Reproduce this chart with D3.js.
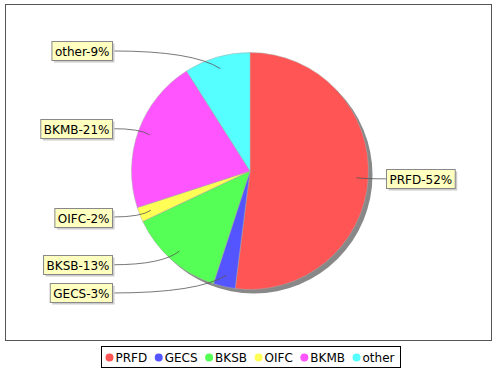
<!DOCTYPE html>
<html>
<head>
<meta charset="utf-8">
<script src="https://cdn.jsdelivr.net/npm/d3@7"></script>
<style>
  body { margin: 0; background: #fff; }
  text { font-family: "DejaVu Sans", sans-serif; font-size: 12px; fill: #000; }
</style>
</head>
<body>
<div id="chart"></div>
<script>
const categories = ['PRFD', 'GECS', 'BKSB', 'OIFC', 'BKMB', 'other']
const values = [52, 3, 13, 2, 21, 9]
const colors = ['#ff5555', '#5555ff', '#55ff55', '#ffff55', '#ff55ff', '#55ffff']

const W = 500, H = 370
const cx = 250, cy = 171, r = 118.5

const svg = d3.select('#chart').append('svg')
  .attr('width', W)
  .attr('height', H)

// plot border
svg.append('rect')
  .attr('x', 5.5).attr('y', 4.5)
  .attr('width', 486).attr('height', 336)
  .attr('fill', '#fff')
  .attr('stroke', '#555')

const data = categories.map((c, i) => ({ name: c, value: values[i], color: colors[i] }))
const total = d3.sum(values)

const pie = d3.pie().value(d => d.value).sort(null)
const arcs = pie(data)
const arc = d3.arc().innerRadius(0).outerRadius(r)

// shadow
svg.append('circle')
  .attr('cx', cx + 4).attr('cy', cy + 4)
  .attr('r', r)
  .attr('fill', '#888')

const g = svg.append('g').attr('transform', `translate(${cx},${cy})`)
g.selectAll('path.slice')
  .data(arcs)
  .enter()
  .append('path')
  .attr('class', 'slice')
  .attr('d', arc)
  .attr('fill', d => d.data.color)
  .attr('stroke', '#aaa')
  .attr('stroke-width', 0.5)

// labels
const labels = arcs.map(a => {
  const mid = (a.startAngle + a.endAngle) / 2
  return {
    name: a.data.name + '-' + Math.round(a.data.value / total * 100) + '%',
    mid: mid,
    right: Math.sin(mid) >= 0,
    y: cy - 125 * Math.cos(mid),
    px: cx + 0.9 * r * Math.sin(mid),
    py: cy - 0.9 * r * Math.cos(mid)
  }
})

// push overlapping labels apart on each side
const boxH = 19, gapY = 6
;[true, false].forEach(side => {
  const ls = labels.filter(l => l.right === side).sort((a, b) => a.y - b.y)
  for (let k = ls.length - 1; k > 0; k--) {
    if (ls[k].y - ls[k - 1].y < boxH + gapY) ls[k - 1].y = ls[k].y - boxH - gapY
  }
})

const lg = svg.append('g')
labels.forEach(l => {
  const t = lg.append('text').text(l.name)
  const tw = t.node().getComputedTextLength()
  const bw = tw + 6
  const bx = l.right ? cx + r + 18 : cx - r - 19 - bw
  const by = Math.round(l.y - boxH / 2) + 0.5
  const ex = l.right ? bx : bx + bw
  const dx = l.px - ex

  lg.append('path')
    .attr('d', `M${ex},${l.y}Q${l.px - dx * 0.25},${l.y} ${l.px},${l.py}`)
    .attr('fill', 'none')
    .attr('stroke', '#555')
    .attr('stroke-width', 0.8)

  lg.append('rect')
    .attr('x', bx + 2).attr('y', by + 2)
    .attr('width', bw).attr('height', boxH)
    .attr('fill', '#ccc')
  lg.append('rect')
    .attr('x', bx).attr('y', by)
    .attr('width', bw).attr('height', boxH)
    .attr('fill', '#ffffc0')
    .attr('stroke', '#888')
  t.attr('x', bx + 3).attr('y', by + 14).raise()
})

// legend
const leg = svg.append('g')
const items = data.map(d => {
  const t = leg.append('text').text(d.name).attr('y', 362)
  return { d: d, t: t, w: t.node().getComputedTextLength() }
})
const itemW = items.map(it => 10 + it.w)
const legGap = 7.5
const legW = d3.sum(itemW) + legGap * (items.length - 1)
let x = cx - legW / 2
leg.insert('rect', ':first-child')
  .attr('x', Math.round(x - 5) + 0.5).attr('y', 346.5)
  .attr('width', Math.round(legW + 10)).attr('height', 21)
  .attr('fill', '#fff')
  .attr('stroke', '#000')
items.forEach((it, i) => {
  leg.append('circle')
    .attr('cx', x + 4).attr('cy', 357.5)
    .attr('r', 4)
    .attr('fill', it.d.color)
  it.t.attr('x', x + 10)
  x += itemW[i] + legGap
})
</script>
</body>
</html>
